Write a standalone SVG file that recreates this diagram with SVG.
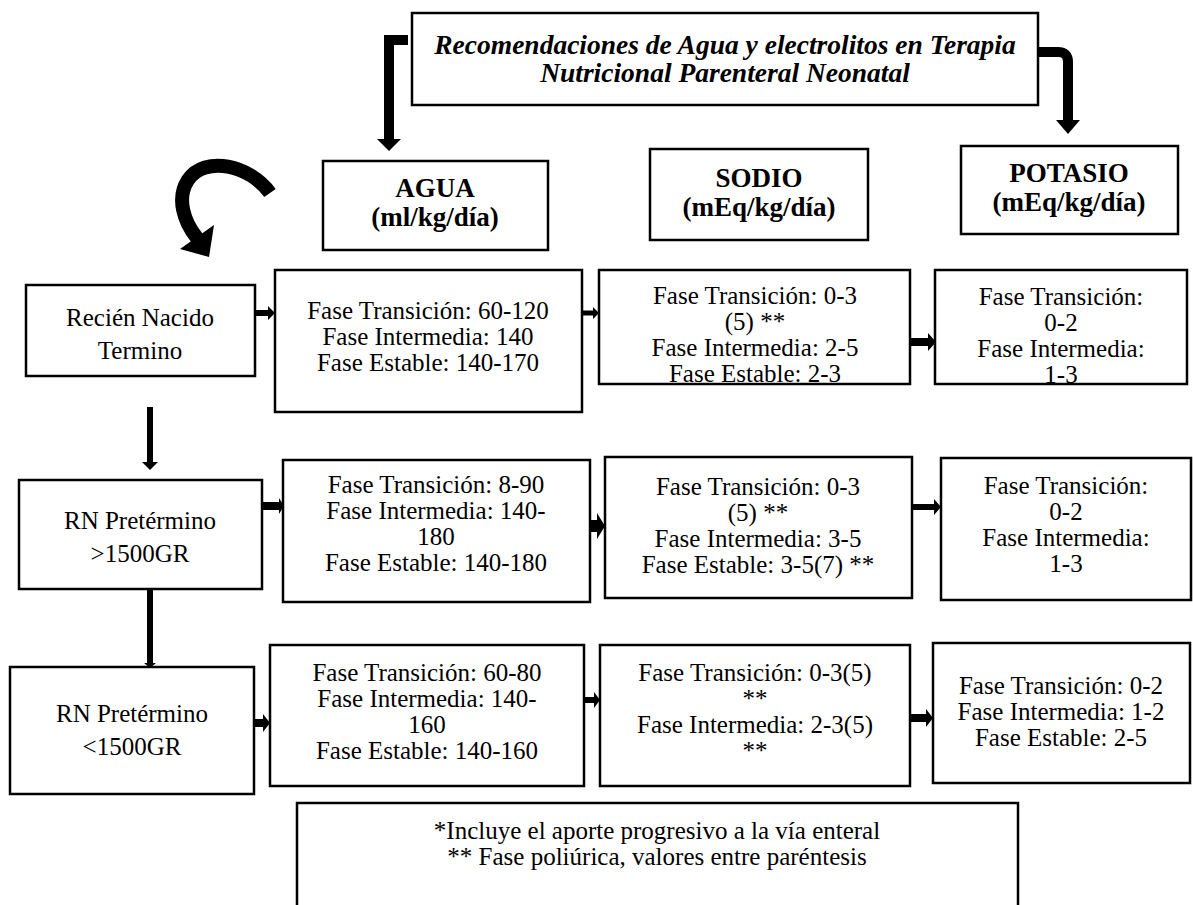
<svg xmlns="http://www.w3.org/2000/svg" width="1193" height="905" viewBox="0 0 1193 905">
<style>
.box{fill:#fff;stroke:#000;stroke-width:2.5}
.t{font-family:"Liberation Serif","Times New Roman",serif;font-size:25px;fill:#000;text-anchor:middle}
.b{font-weight:bold;font-size:27px}
.ti{font-weight:bold;font-style:italic;font-size:27.5px}
.arr{fill:#000;stroke:none}
.thick{fill:none;stroke:#000}
</style>
<rect width="1193" height="905" fill="#fff"/>

<g id="title">
<rect class="box" x="412" y="13" width="626" height="92"/>
<text class="t ti" x="725" y="54">Recomendaciones de Agua y electrolitos en Terapia</text>
<text class="t ti" x="725" y="82">Nutricional Parenteral Neonatal</text>
</g>

<g id="h-agua">
<rect class="box" x="323" y="161" width="225" height="89"/>
<text class="t b" x="435" y="197">AGUA</text>
<text class="t b" x="435" y="226">(ml/kg/día)</text>
</g>
<g id="h-sodio">
<rect class="box" x="650" y="149" width="218" height="91"/>
<text class="t b" x="759" y="187">SODIO</text>
<text class="t b" x="759" y="216">(mEq/kg/día)</text>
</g>
<g id="h-potasio">
<rect class="box" x="961" y="146" width="217" height="88"/>
<text class="t b" x="1069" y="182">POTASIO</text>
<text class="t b" x="1069" y="211">(mEq/kg/día)</text>
</g>

<g id="rn-termino">
<rect class="box" x="26" y="285" width="229" height="91"/>
<text class="t" x="140" y="326">Recién Nacido</text>
<text class="t" x="140" y="359">Termino</text>
</g>
<g id="agua-1">
<rect class="box" x="275" y="270" width="307" height="142"/>
<text class="t" x="428" y="319">Fase Transición: 60-120</text>
<text class="t" x="428" y="345">Fase Intermedia: 140</text>
<text class="t" x="428" y="371">Fase Estable: 140-170</text>
</g>
<g id="sodio-1">
<rect class="box" x="599" y="270" width="311" height="114"/>
<text class="t" x="755" y="304">Fase Transición: 0-3</text>
<text class="t" x="755" y="330">(5) **</text>
<text class="t" x="755" y="356">Fase Intermedia: 2-5</text>
<text class="t" x="755" y="382">Fase Estable: 2-3</text>
</g>
<g id="potasio-1">
<rect class="box" x="935" y="270" width="252" height="114"/>
<text class="t" x="1061" y="305">Fase Transición:</text>
<text class="t" x="1061" y="331">0-2</text>
<text class="t" x="1061" y="357">Fase Intermedia:</text>
<text class="t" x="1061" y="383">1-3</text>
</g>

<g id="rn-pre-1500mas">
<rect class="box" x="19" y="480" width="243" height="109"/>
<text class="t" x="140" y="529">RN Pretérmino</text>
<text class="t" x="140" y="562">&gt;1500GR</text>
</g>
<g id="agua-2">
<rect class="box" x="283" y="460" width="307" height="142"/>
<text class="t" x="436" y="493">Fase Transición: 8-90</text>
<text class="t" x="436" y="519">Fase Intermedia: 140-</text>
<text class="t" x="436" y="545">180</text>
<text class="t" x="436" y="571">Fase Estable: 140-180</text>
</g>
<g id="sodio-2">
<rect class="box" x="605" y="457" width="307" height="141"/>
<text class="t" x="758" y="495">Fase Transición: 0-3</text>
<text class="t" x="758" y="521">(5) **</text>
<text class="t" x="758" y="547">Fase Intermedia: 3-5</text>
<text class="t" x="758" y="573">Fase Estable: 3-5(7) **</text>
</g>
<g id="potasio-2">
<rect class="box" x="941" y="458" width="250" height="142"/>
<text class="t" x="1066" y="494">Fase Transición:</text>
<text class="t" x="1066" y="520">0-2</text>
<text class="t" x="1066" y="546">Fase Intermedia:</text>
<text class="t" x="1066" y="572">1-3</text>
</g>

<g id="rn-pre-1500menos">
<rect class="box" x="10" y="667" width="244" height="127"/>
<text class="t" x="132" y="722">RN Pretérmino</text>
<text class="t" x="132" y="755">&lt;1500GR</text>
</g>
<g id="agua-3">
<rect class="box" x="270" y="645" width="314" height="141"/>
<text class="t" x="427" y="681">Fase Transición: 60-80</text>
<text class="t" x="427" y="707">Fase Intermedia: 140-</text>
<text class="t" x="427" y="733">160</text>
<text class="t" x="427" y="759">Fase Estable: 140-160</text>
</g>
<g id="sodio-3">
<rect class="box" x="600" y="645" width="310" height="141"/>
<text class="t" x="755" y="681">Fase Transición: 0-3(5)</text>
<text class="t" x="755" y="707">**</text>
<text class="t" x="755" y="733">Fase Intermedia: 2-3(5)</text>
<text class="t" x="755" y="759">**</text>
</g>
<g id="potasio-3">
<rect class="box" x="933" y="643" width="257" height="140"/>
<text class="t" x="1061" y="694">Fase Transición: 0-2</text>
<text class="t" x="1061" y="720">Fase Intermedia: 1-2</text>
<text class="t" x="1061" y="746">Fase Estable: 2-5</text>
</g>

<g id="nota">
<rect class="box" x="297" y="803" width="721" height="110"/>
<text class="t" x="657" y="839">*Incluye el aporte progresivo a la vía enteral</text>
<text class="t" x="657" y="865">** Fase poliúrica, valores entre paréntesis</text>
</g>

<g id="connectors">
<path class="thick" stroke-width="10" stroke-linejoin="miter" d="M408 40 H389 V140"/>
<polygon class="arr" points="377,139 401,139 389,151"/>
<path class="thick" stroke-width="10" d="M1038 52 H1058 Q1068 52 1068 62 V121"/>
<polygon class="arr" points="1056,120 1080,120 1068,134"/>
<path class="thick" stroke-width="14" d="M270 193 C250 165 205 155 188 180 C176 198 184 222 197 238"/>
<polygon class="arr" points="180,249 214,225 209,257"/>

<path class="arr" d="M256 310 H268 V306 L275 313 L268 320 V316 H256 Z"/>
<path class="arr" d="M583 310.5 H593 V307 L599 313 L593 319 V315.5 H583 Z"/>
<path class="arr" d="M911 338 H928 V333 L936 342 L928 351 V346 H911 Z"/>
<path class="arr" d="M263 502 H279 V498 L284 506 L279 514 V510 H263 Z"/>
<path class="arr" d="M591 520 H597 V513 L605 526 L597 539 V532 H591 Z"/>
<path class="arr" d="M913 504 H934 V499 L941 507 L934 515 V510 H913 Z"/>
<path class="arr" d="M255 719 H263 V714 L270 723 L263 732 V727 H255 Z"/>
<path class="arr" d="M585 697 H594 V692 L600 700 L594 708 V703 H585 Z"/>
<path class="arr" d="M911 714 H926 V709 L933 718 L926 727 V722 H911 Z"/>
<path class="arr" d="M147 407 H153 V462 H158 L150 470 L142 462 H147 Z"/>
<path class="arr" d="M147 590 H153 V663 H156 L150 668 L144 663 H147 Z"/>
</g>
</svg>
